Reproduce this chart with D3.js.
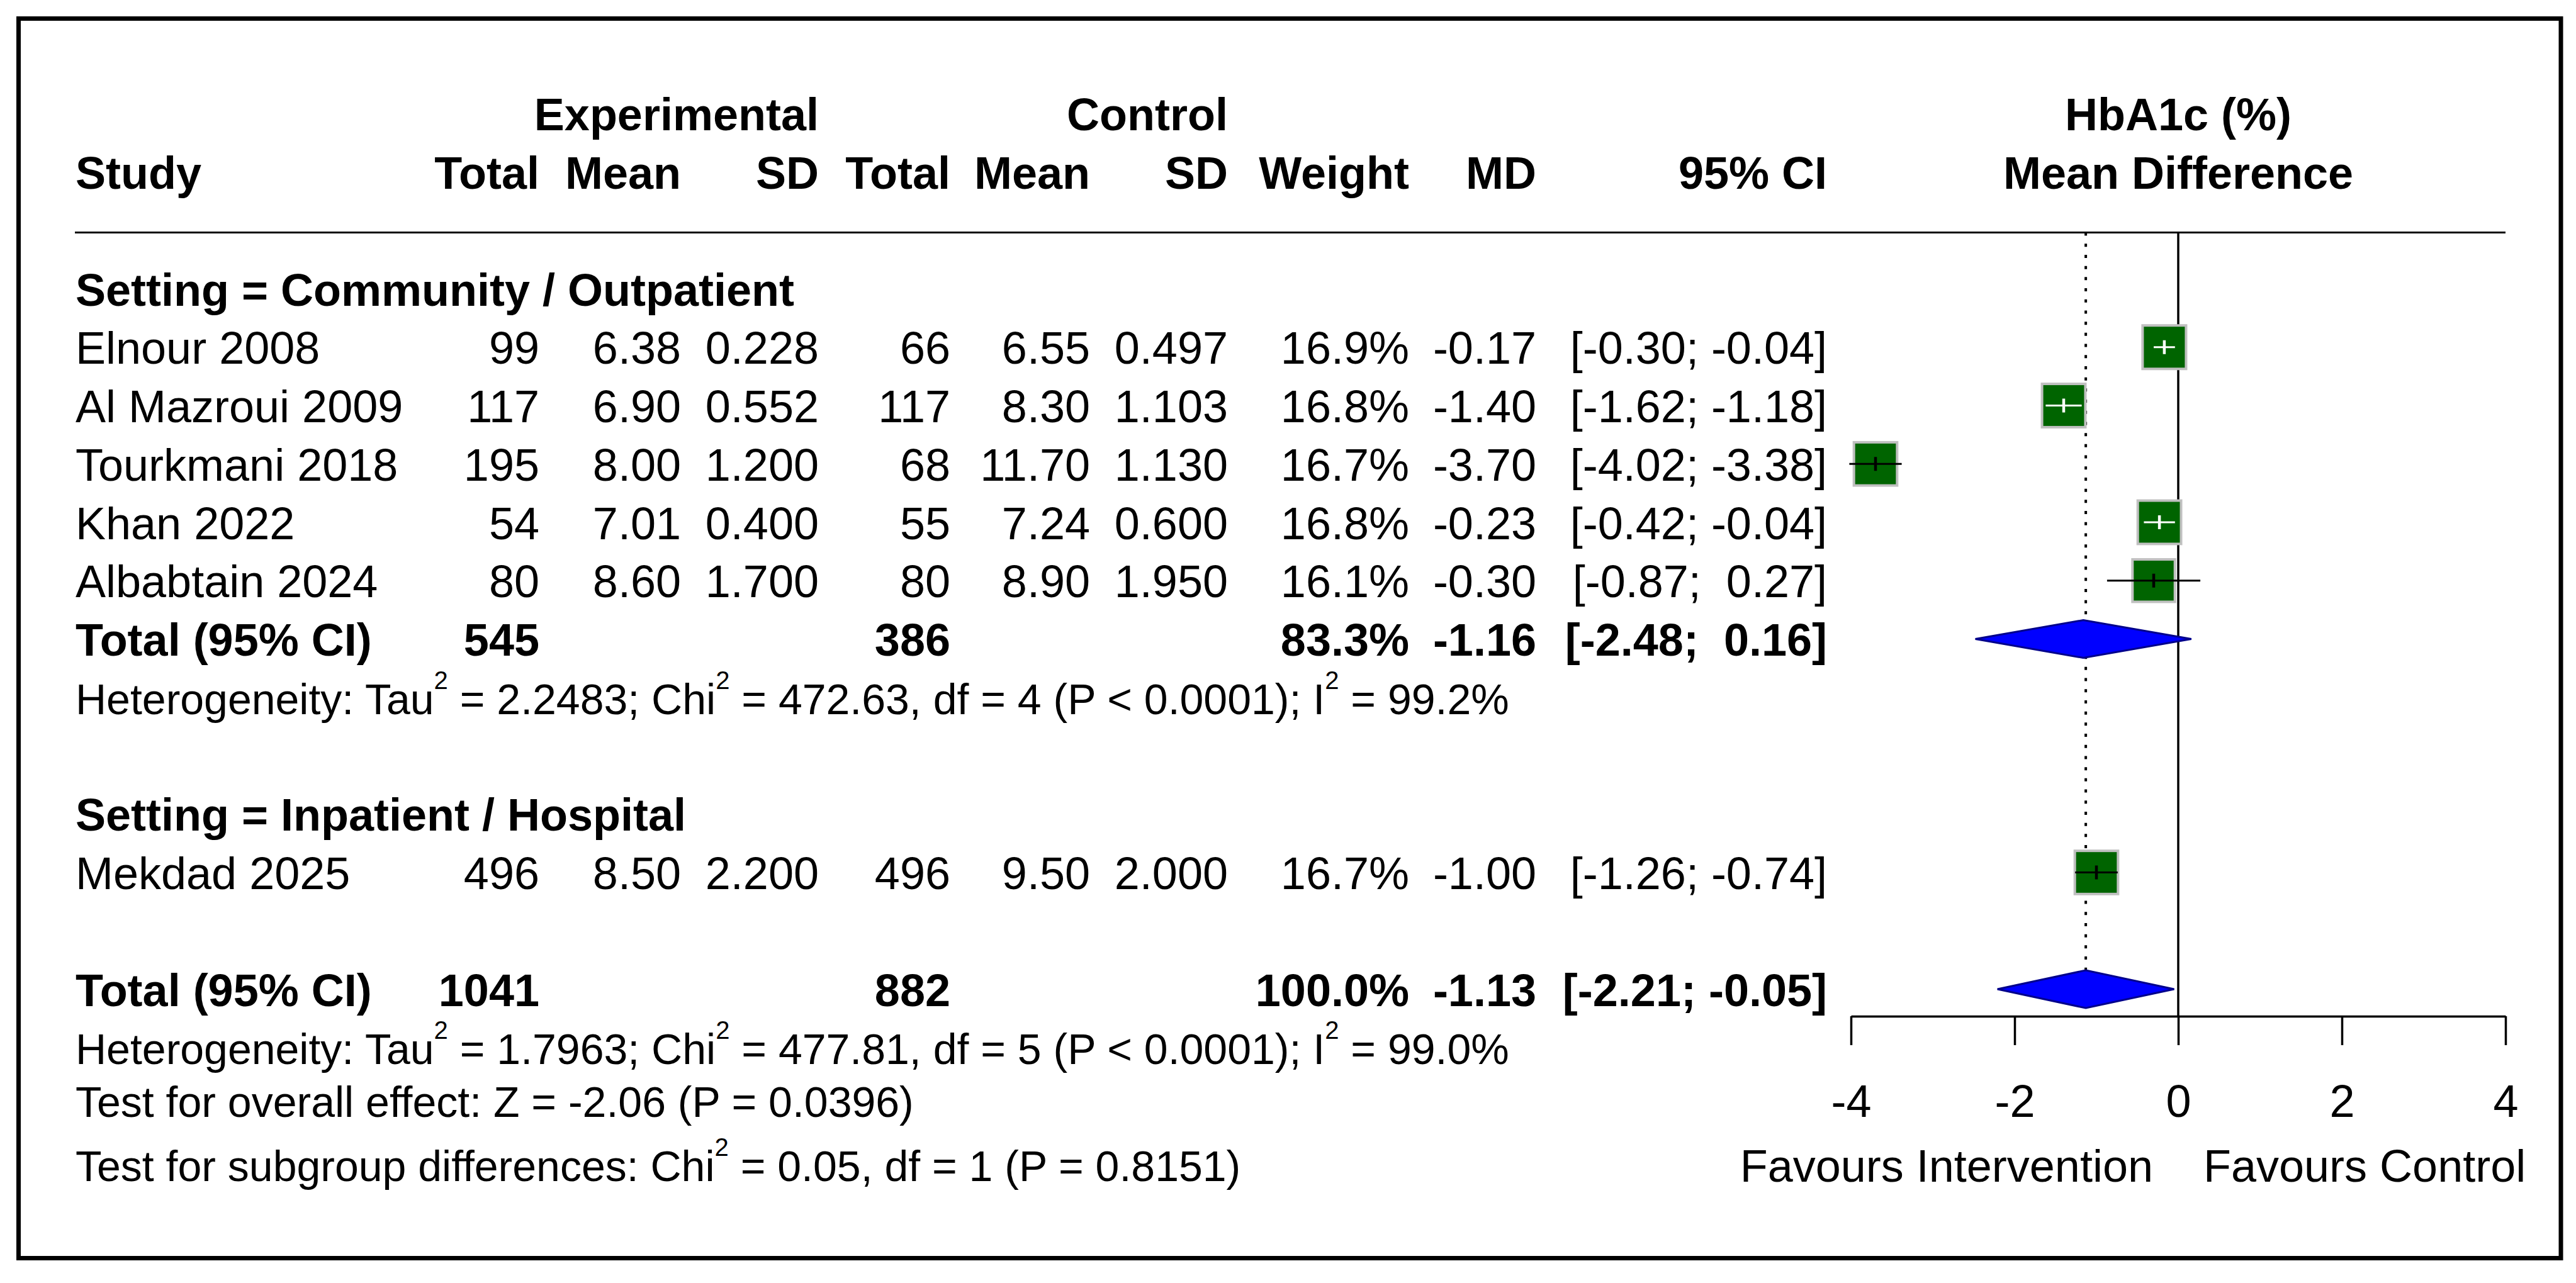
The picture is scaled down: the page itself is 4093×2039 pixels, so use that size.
<!DOCTYPE html>
<html>
<head>
<meta charset="utf-8">
<script src="https://cdn.jsdelivr.net/npm/d3@7"></script>
<style>
  html, body { margin: 0; padding: 0; background: #fff; }
  svg { display: block; }
  text { font-family: "Liberation Sans", Arial, sans-serif; fill: #000; white-space: pre; }
</style>
</head>
<body>
<script>
// ---------------- DATA ----------------
const studies    = ["Elnour 2008", "Al Mazroui 2009", "Tourkmani 2018", "Khan 2022", "Albabtain 2024", "Mekdad 2025"];
const studyGroup = [0, 0, 0, 0, 0, 1];
const expTotal   = [99, 117, 195, 54, 80, 496];
const expMean    = [6.38, 6.90, 8.00, 7.01, 8.60, 8.50];
const expSD      = [0.228, 0.552, 1.200, 0.400, 1.700, 2.200];
const ctrlTotal  = [66, 117, 68, 55, 80, 496];
const ctrlMean   = [6.55, 8.30, 11.70, 7.24, 8.90, 9.50];
const ctrlSD     = [0.497, 1.103, 1.130, 0.600, 1.950, 2.000];
const weights    = [16.9, 16.8, 16.7, 16.8, 16.1, 16.7];
const md         = [-0.17, -1.40, -3.70, -0.23, -0.30, -1.00];
const ciLower    = [-0.30, -1.62, -4.02, -0.42, -0.87, -1.26];
const ciUpper    = [-0.04, -1.18, -3.38, -0.04, 0.27, -0.74];

const groupLabels = ["Setting = Community / Outpatient", "Setting = Inpatient / Hospital"];

// summary rows: subgroup 1 total, overall total
const sumLabels   = ["Total (95% CI)", "Total (95% CI)"];
const sumExpTotal = [545, 1041];
const sumCtrlTotal= [386, 882];
const sumWeight   = [83.3, 100.0];
const sumMD       = [-1.16, -1.13];
const sumLower    = [-2.48, -2.21];
const sumUpper    = [0.16, -0.05];

const xTicks = [-4, -2, 0, 2, 4];
const labelLeft  = "Favours Intervention";
const labelRight = "Favours Control";
const plotTitle1 = "HbA1c (%)";
const plotTitle2 = "Mean Difference";

// statistic lines: segments [text, isSuperscript]
const het1 = [["Heterogeneity: Tau",0],["2",1],[" = 2.2483; Chi",0],["2",1],[" = 472.63, df = 4 (P < 0.0001); I",0],["2",1],[" = 99.2%",0]];
const het2 = [["Heterogeneity: Tau",0],["2",1],[" = 1.7963; Chi",0],["2",1],[" = 477.81, df = 5 (P < 0.0001); I",0],["2",1],[" = 99.0%",0]];
const testOverall = [["Test for overall effect: Z = -2.06 (P = 0.0396)",0]];
const testSubgroup = [["Test for subgroup differences: Chi",0],["2",1],[" = 0.05, df = 1 (P = 0.8151)",0]];

// ---------------- LAYOUT ----------------
const W = 4093, H = 2039;
const FS = 72, FS_STAT = 68, FS_SUP = 40;
const svg = d3.select("body").append("svg").attr("width", W).attr("height", H);

svg.append("rect").attr("x", 0).attr("y", 0).attr("width", W).attr("height", H).attr("fill", "#fff");
svg.append("rect").attr("x", 29.5).attr("y", 29.5).attr("width", 4039.5).attr("height", 1970)
  .attr("fill", "none").attr("stroke", "#000").attr("stroke-width", 7);

// row scale: row index -> vertical centre of the row
const y = d3.scaleLinear().domain([0, 1]).range([459, 459 + 92.75]);
const BL = 26.5; // baseline offset from row centre

// x scale for the forest plot
const x = d3.scaleLinear().domain([-4, 4]).range([2941, 3981]);

// columns (right-aligned except study)
const col = { study: 120, eTot: 857, eMean: 1082, eSD: 1301, cTot: 1510, cMean: 1732, cSD: 1951, w: 2239, md: 2441, ci: 2903 };

function txt(xp, yp, s, opt = {}) {
  return svg.append("text").attr("x", xp).attr("y", yp)
    .attr("font-size", opt.fs || FS)
    .attr("font-weight", opt.bold ? "bold" : "normal")
    .attr("text-anchor", opt.anchor || "start")
    .text(s);
}
function fmtCI(lo, hi) {
  const f = v => (v < 0 ? "" : " ") + v.toFixed(2);
  return "[" + f(lo) + "; " + f(hi) + "]";
}
function statLine(segs, row) {
  const t = svg.append("text").attr("x", col.study).attr("y", y(row) + BL).attr("font-size", FS_STAT);
  let raised = false;
  segs.forEach(([s, sup]) => {
    const ts = t.append("tspan").text(s);
    if (sup) { ts.attr("font-size", FS_SUP).attr("dy", -40); raised = true; }
    else if (raised) { ts.attr("dy", 40); raised = false; }
  });
}

// ---------------- HEADER ----------------
txt(col.eSD, y(-3) + BL, "Experimental", { bold: 1, anchor: "end" });
txt(col.cSD, y(-3) + BL, "Control", { bold: 1, anchor: "end" });
txt(x(0), y(-3) + BL, plotTitle1, { bold: 1, anchor: "middle" });
txt(col.study, y(-2) + BL, "Study", { bold: 1 });
[["eTot","Total"],["eMean","Mean"],["eSD","SD"],["cTot","Total"],["cMean","Mean"],["cSD","SD"],["w","Weight"],["md","MD"],["ci","95% CI"]]
  .forEach(([k, s]) => txt(col[k], y(-2) + BL, s, { bold: 1, anchor: "end" }));
txt(x(0), y(-2) + BL, plotTitle2, { bold: 1, anchor: "middle" });

const ruleY = y(-1.25) + BL;
svg.append("line").attr("x1", 119).attr("x2", x(4)).attr("y1", ruleY).attr("y2", ruleY)
  .attr("stroke", "#000").attr("stroke-width", 3);

// ---------------- ROW ASSIGNMENT ----------------
const groupRow = [0, 9];
const studyRow = studies.map((s, i) => {
  const g = studyGroup[i];
  const idx = studyGroup.slice(0, i).filter(v => v === g).length;
  return groupRow[g] + 1 + idx;
});
const sumRow = [6, 12];

// group labels
groupLabels.forEach((g, i) => txt(col.study, y(groupRow[i]) + BL, g, { bold: 1 }));

// study rows
studies.forEach((s, i) => {
  const yy = y(studyRow[i]) + BL;
  txt(col.study, yy, s);
  txt(col.eTot, yy, String(expTotal[i]), { anchor: "end" });
  txt(col.eMean, yy, expMean[i].toFixed(2), { anchor: "end" });
  txt(col.eSD, yy, expSD[i].toFixed(3), { anchor: "end" });
  txt(col.cTot, yy, String(ctrlTotal[i]), { anchor: "end" });
  txt(col.cMean, yy, ctrlMean[i].toFixed(2), { anchor: "end" });
  txt(col.cSD, yy, ctrlSD[i].toFixed(3), { anchor: "end" });
  txt(col.w, yy, weights[i].toFixed(1) + "%", { anchor: "end" });
  txt(col.md, yy, md[i].toFixed(2), { anchor: "end" });
  txt(col.ci, yy, fmtCI(ciLower[i], ciUpper[i]), { anchor: "end" });
});

// summary rows
sumLabels.forEach((s, i) => {
  const yy = y(sumRow[i]) + BL;
  txt(col.study, yy, s, { bold: 1 });
  txt(col.eTot, yy, String(sumExpTotal[i]), { bold: 1, anchor: "end" });
  txt(col.cTot, yy, String(sumCtrlTotal[i]), { bold: 1, anchor: "end" });
  txt(col.w, yy, sumWeight[i].toFixed(1) + "%", { bold: 1, anchor: "end" });
  txt(col.md, yy, sumMD[i].toFixed(2), { bold: 1, anchor: "end" });
  txt(col.ci, yy, fmtCI(sumLower[i], sumUpper[i]), { bold: 1, anchor: "end" });
});

statLine(het1, 7);
statLine(het2, 13);
statLine(testOverall, 13.9);
statLine(testSubgroup, 15);

// ---------------- FOREST PLOT ----------------
const axisY = y(12) + 43;
const DIA_H = 30;
const overallIdx = 1;

// reference lines
svg.append("line").attr("x1", x(0)).attr("x2", x(0)).attr("y1", ruleY).attr("y2", axisY)
  .attr("stroke", "#000").attr("stroke-width", 3.5);
svg.append("line").attr("x1", x(sumMD[overallIdx])).attr("x2", x(sumMD[overallIdx]))
  .attr("y1", ruleY).attr("y2", y(sumRow[overallIdx]) - DIA_H)
  .attr("stroke", "#000").attr("stroke-width", 4).attr("stroke-dasharray", "5 12.7");

// squares
const side = w => 16.8 * Math.sqrt(w);
const g = svg.append("g");
studies.forEach((s, i) => {
  const cy = y(studyRow[i]);
  const cx = x(md[i]);
  const sz = side(weights[i]);
  const ciW = x(ciUpper[i]) - x(ciLower[i]);
  const inside = ciW < 0.9 * sz;
  const lc = inside ? "#fff" : "#000";
  g.append("rect").attr("x", cx - sz / 2).attr("y", cy - sz / 2).attr("width", sz).attr("height", sz)
    .attr("fill", "#006400").attr("stroke", "#c0c0c0").attr("stroke-width", 4);
  g.append("line").attr("x1", x(ciLower[i])).attr("x2", x(ciUpper[i])).attr("y1", cy).attr("y2", cy)
    .attr("stroke", lc).attr("stroke-width", 3);
  g.append("line").attr("x1", cx).attr("x2", cx).attr("y1", cy - 11).attr("y2", cy + 11)
    .attr("stroke", lc).attr("stroke-width", 4.5);
});

// diamonds
sumMD.forEach((m, i) => {
  const cy = y(sumRow[i]);
  const pts = [[x(sumLower[i]), cy], [x(m), cy - DIA_H], [x(sumUpper[i]), cy], [x(m), cy + DIA_H]];
  svg.append("polygon").attr("points", pts.map(p => p.join(",")).join(" "))
    .attr("fill", "#0000ff").attr("stroke", "#00008b").attr("stroke-width", 3);
});

// axis
const axis = d3.axisBottom(x).tickValues(xTicks).tickFormat(d3.format("d"))
  .tickSize(46).tickSizeOuter(0).tickPadding(63);
const ag = svg.append("g").attr("transform", `translate(0,${axisY})`).call(axis);
ag.select(".domain").attr("stroke", "#000").attr("stroke-width", 3.5);
ag.selectAll(".tick line").attr("stroke", "#000").attr("stroke-width", 3.5);
ag.selectAll(".tick text").attr("font-size", FS).attr("font-family", "Liberation Sans, Arial, sans-serif")
  .attr("fill", "#000").text(d => d < 0 ? "-" + Math.abs(d) : String(d));

// favours labels
txt(x(0) - 40, axisY + 263, labelLeft, { anchor: "end" });
txt(x(0) + 40, axisY + 263, labelRight, { anchor: "start" });
</script>
</body>
</html>
